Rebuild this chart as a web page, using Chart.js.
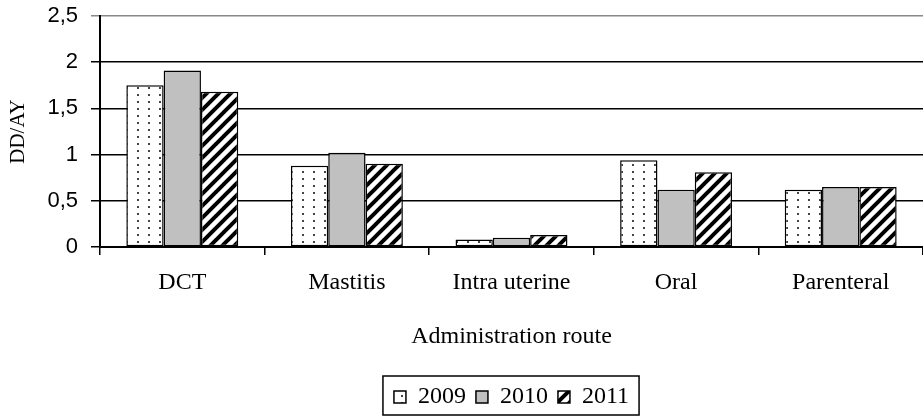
<!DOCTYPE html>
<html>
<head>
<meta charset="utf-8">
<script src="https://cdn.jsdelivr.net/npm/chart.js@4.4.1/dist/chart.umd.min.js"></script>
<style>
  html, body { margin: 0; padding: 0; background: #fff; }
  #wrap { width: 923px; height: 419px; }
</style>
</head>
<body>
<div id="wrap"><canvas id="chart" width="923" height="419"></canvas></div>
<script>
// data
const routes = ['DCT', 'Mastitis', 'Intra uterine', 'Oral', 'Parenteral'];
const years = ['2009', '2010', '2011'];
const v2009 = [1.75, 0.88, 0.08, 0.94, 0.62];
const v2010 = [1.91, 1.02, 0.10, 0.62, 0.65];
const v2011 = [1.68, 0.90, 0.13, 0.81, 0.65];

// petits motifs pour remplir les barres
function dotPattern() {
  const c = document.createElement('canvas');
  c.width = 11; c.height = 7;
  const g = c.getContext('2d');
  g.fillStyle = '#fff';
  g.fillRect(0, 0, 11, 7);
  g.fillStyle = '#444';
  g.fillRect(5, 3, 2, 2);
  return g.createPattern(c, 'repeat');
}
function stripePattern() {
  const s = 12;
  const c = document.createElement('canvas');
  c.width = s; c.height = s;
  const g = c.getContext('2d');
  g.fillStyle = '#fff';
  g.fillRect(0, 0, s, s);
  g.strokeStyle = '#000';
  g.lineWidth = 4;
  g.beginPath();
  g.moveTo(-s / 2, s / 2); g.lineTo(s / 2, -s / 2);
  g.moveTo(0, s); g.lineTo(s, 0);
  g.moveTo(s / 2, s * 1.5); g.lineTo(s * 1.5, s / 2);
  g.stroke();
  return g.createPattern(c, 'repeat');
}

// cadre autour de la legende
const legendFrame = {
  id: 'legendFrame',
  afterDraw(chart) {
    const lg = chart.legend;
    if (!lg || !lg.legendHitBoxes.length) return;
    const hb = lg.legendHitBoxes;
    const last = hb[hb.length - 1];
    const x0 = hb[0].left - 11, x1 = last.left + last.width + 10;
    const y0 = hb[0].top - 9, y1 = hb[0].top + hb[0].height + 6;
    const c = chart.ctx;
    c.save();
    c.strokeStyle = '#000';
    c.lineWidth = 1.5;
    c.strokeRect(x0, y0, x1 - x0, y1 - y0);
    c.restore();
  }
};

const serif = '"Liberation Serif", "Times New Roman", serif';
const sans = '"Liberation Sans", Arial, sans-serif';

const ctx = document.getElementById('chart').getContext('2d');
const chart = new Chart(ctx, {
  type: 'bar',
  data: {
    labels: routes,
    datasets: [
      { label: years[0], data: v2009, backgroundColor: dotPattern() },
      { label: years[1], data: v2010, backgroundColor: '#c0c0c0' },
      { label: years[2], data: v2011, backgroundColor: stripePattern() }
    ]
  },
  options: {
    responsive: false,
    animation: false,
    devicePixelRatio: 1,
    layout: { padding: { top: 16, right: 0, bottom: 0, left: 0 } },
    datasets: {
      bar: {
        borderColor: '#000',
        borderWidth: 1.5,
        borderSkipped: false,
        categoryPercentage: 0.68,
        barPercentage: 1.0
      }
    },
    plugins: {
      tooltip: { enabled: false },
      legend: {
        position: 'bottom',
        fullSize: false,
        labels: {
          color: '#000',
          font: { family: serif, size: 24 },
          boxWidth: 12,
          boxHeight: 12,
          padding: 10,
          useBorderRadius: false
        }
      }
    },
    scales: {
      x: {
        grid: {
          offset: true,
          drawOnChartArea: false,
          drawTicks: true,
          tickLength: 8,
          color: '#000',
          lineWidth: 1.5
        },
        border: { color: '#000', width: 2 },
        ticks: {
          color: '#000',
          font: { family: serif, size: 24 },
          padding: 13,
          maxRotation: 0
        },
        title: {
          display: true,
          text: 'Administration route',
          color: '#000',
          font: { family: serif, size: 24 },
          padding: { top: 0, bottom: 24 }
        },
        afterFit(scale) { scale.height = 128; }
      },
      y: {
        min: 0,
        max: 2.5,
        grid: {
          color: c => (c.tick && c.tick.value === 2.5) ? '#888' : '#000',
          lineWidth: 1.5,
          tickLength: 9
        },
        border: { color: '#000', width: 2 },
        ticks: {
          stepSize: 0.5,
          color: '#000',
          font: { family: sans, size: 22 },
          padding: 13,
          callback: v => String(v).replace('.', ',')
        },
        title: {
          display: true,
          text: 'DD/AY',
          color: '#000',
          font: { family: serif, size: 21 },
          padding: { top: 6, bottom: 0 }
        },
        afterFit(scale) {
          scale.width = 100;
          scale.paddingTop = 0;
          scale.paddingBottom = 0;
        }
      }
    }
  },
  plugins: [legendFrame]
});
</script>
</body>
</html>
